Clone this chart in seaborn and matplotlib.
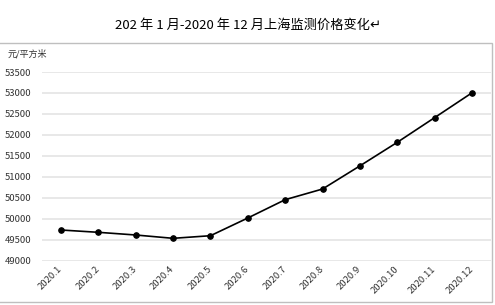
import matplotlib
matplotlib.use("Agg")
import matplotlib.pyplot as plt
import seaborn as sns
import pandas as pd
from matplotlib.patches import Rectangle

months = ["2020.1", "2020.2", "2020.3", "2020.4", "2020.5", "2020.6",
          "2020.7", "2020.8", "2020.9", "2020.10", "2020.11", "2020.12"]
prices = [49738, 49683, 49619, 49540, 49602, 50024,
          50460, 50714, 51265, 51826, 52414, 53005]
yticks = [49000, 49500, 50000, 50500, 51000, 51500, 52000, 52500, 53000, 53500]
title = "202 年 1 月-2020 年 12 月上海监测价格变化↵"
unit = "元/平方米"

sns.set_theme(style="white")
plt.rcParams['font.family'] = ['Noto Sans CJK SC', 'DejaVu Sans']

df = pd.DataFrame({"month": months, "price": prices})

fig = plt.figure(figsize=(4.95, 3.05), dpi=100)
W, H = 495, 305
ax = fig.add_axes([42.3 / W, 1 - 261 / H, (490.7 - 42.3) / W, (261 - 72) / H])

for v in yticks:
    ax.axhline(v, color="#e8e8e8", lw=1.4, zorder=0)

sns.lineplot(data=df, x="month", y="price", ax=ax, color="black", lw=1.2,
             marker="o", markersize=4, markeredgecolor="black", sort=False)

ax.set_xlim(-0.5, len(months) - 0.5)
ax.set_ylim(49000, 53500)
ax.set_yticks(yticks)
ax.set_yticklabels([str(v) for v in yticks], fontsize=6.8, color="#333333")
ax.set_xticks(range(len(months)))
ax.set_xticklabels(months, fontsize=6.8, color="#333333", rotation=45,
                   ha="right", va="center", rotation_mode="anchor")
ax.tick_params(axis="x", pad=5, length=0)
ax.tick_params(axis="y", pad=8, length=0)
for s in ax.spines.values():
    s.set_visible(False)
ax.set_xlabel("")
ax.set_ylabel("")

fig.text(8 / W, 1 - 54 / H, unit, fontsize=6.5, color="#333333", va="center", ha="left")
fig.text(248 / W, 1 - 25 / H, title, fontsize=9.5, color="black", va="center", ha="center")

# chart frame
fig.add_artist(Rectangle((-2 / W, 1 - 302 / H), 494 / W, (302 - 43) / H,
                         transform=fig.transFigure, fill=False,
                         edgecolor="#bfbfbf", lw=1))

fig.savefig("out.png", dpi=100)
